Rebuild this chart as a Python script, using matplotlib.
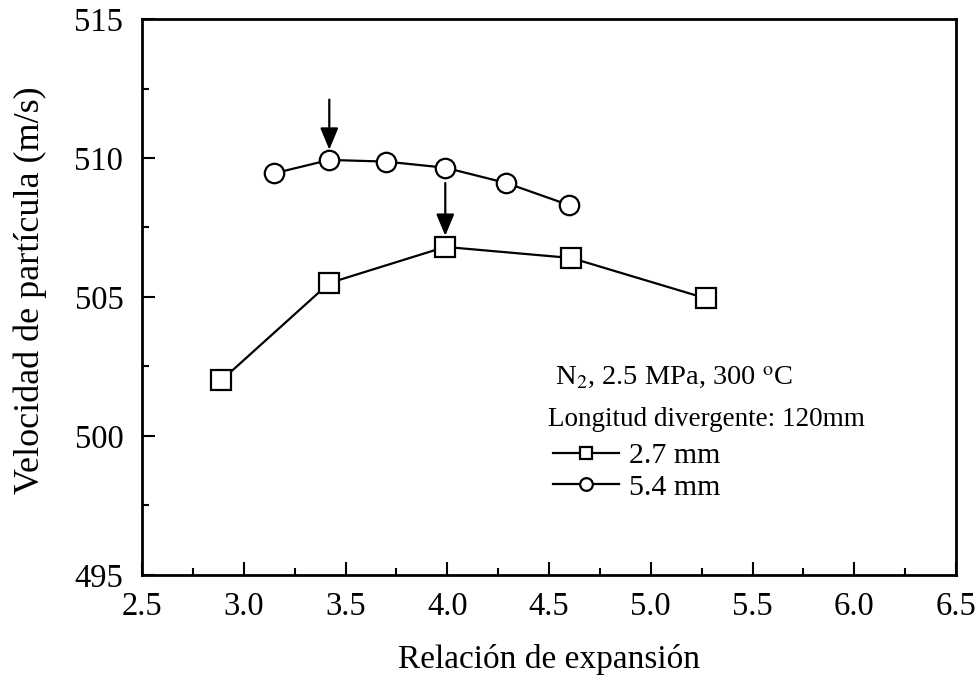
import matplotlib
matplotlib.use("Agg")
import matplotlib.pyplot as plt
from matplotlib.ticker import MultipleLocator

plt.rcParams['font.family'] = ['Liberation Serif', 'DejaVu Serif']
plt.rcParams['mathtext.fontset'] = 'stix'

# Data
x_27 = [2.89, 3.42, 3.99, 4.61, 5.27]
y_27 = [502.0, 505.5, 506.8, 506.4, 504.95]
x_54 = [3.15, 3.42, 3.70, 3.99, 4.29, 4.60]
y_54 = [509.45, 509.93, 509.87, 509.65, 509.1, 508.3]
label_27 = "2.7 mm"
label_54 = "5.4 mm"
xticks = [2.5, 3.0, 3.5, 4.0, 4.5, 5.0, 5.5, 6.0, 6.5]
yticks = [495, 500, 505, 510, 515]
# arrows (x, y_start, y_end)
arrows = [(3.42, 512.1, 510.3), (3.99, 509.1, 507.2)]

fig = plt.figure(figsize=(9.8, 6.81), dpi=100)
ax = fig.add_axes([0.145, 0.156, 0.8305, 0.816])

ax.plot(x_27, y_27, color='black', lw=1.6, marker='s', ms=14,
        mfc='white', mec='black', mew=1.6, label=label_27)
ax.plot(x_54, y_54, color='black', lw=1.6, marker='o', ms=14,
        mfc='white', mec='black', mew=1.6, label=label_54)

for xa, y0, y1 in arrows:
    ax.annotate('', xy=(xa, y1), xytext=(xa, y0),
                arrowprops=dict(arrowstyle='-|>,head_length=0.6,head_width=0.25',
                                color='black', lw=1.6,
                                mutation_scale=22, shrinkA=0, shrinkB=0))

ax.set_xlim(2.5, 6.5)
ax.set_ylim(495, 515)
ax.set_xticks(xticks)
ax.set_xticklabels([f"{v:.1f}" for v in xticks])
ax.set_yticks(yticks)
ax.xaxis.set_minor_locator(MultipleLocator(0.25))
ax.yaxis.set_minor_locator(MultipleLocator(2.5))
ax.tick_params(which='both', direction='in', top=False, right=False,
               labelsize=23.5, width=1.5)
ax.tick_params(which='major', length=9.5)
ax.tick_params(which='minor', length=5)
ax.tick_params(axis='x', which='major', pad=12)
ax.tick_params(axis='y', which='major', pad=13.5)
for s in ax.spines.values():
    s.set_linewidth(2)

ax.set_xlabel("Relación de expansión", fontsize=24, labelpad=16)
ax.set_ylabel("Velocidad de partícula (m/s)", fontsize=26)
ax.yaxis.set_label_coords(-0.117, 0.513)

ax.text(0.507, 0.356, r"N$_2$, 2.5 MPa, 300 $^{\rm o}$C", transform=ax.transAxes,
        fontsize=20.5, va='center', ha='left')
ax.text(0.499, 0.279, "Longitud divergente: 120mm", transform=ax.transAxes,
        fontsize=19.5, va='center', ha='left')
ax.legend(loc='center left', bbox_to_anchor=(0.505, 0.186), frameon=False,
          fontsize=21.5, handlelength=2.2, handletextpad=0.33, labelspacing=0.15,
          markerscale=0.65, borderpad=0, borderaxespad=0)

fig.savefig("out.png", dpi=100)
